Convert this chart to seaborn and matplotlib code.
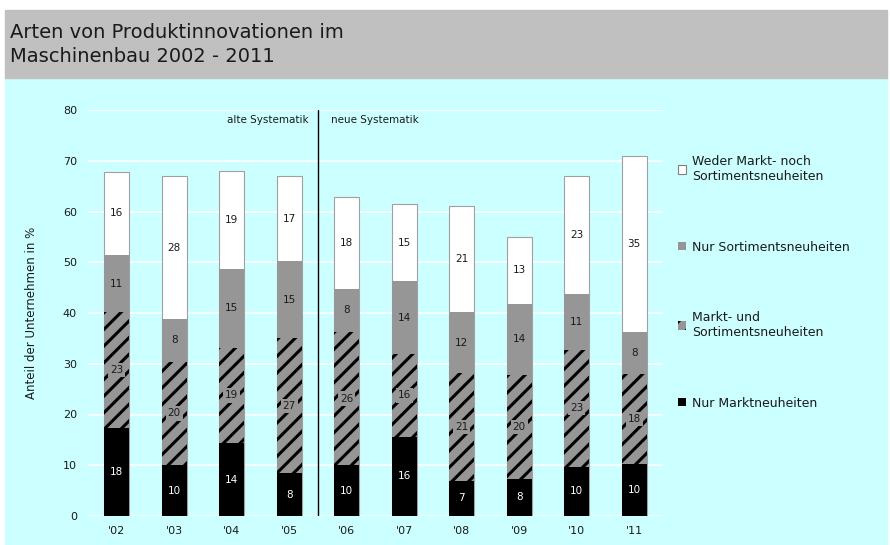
import matplotlib
matplotlib.use("Agg")
import matplotlib.pyplot as plt
import seaborn as sns
import pandas as pd
import numpy as np
from matplotlib.patches import Patch, Rectangle

# ---- data ----
years = ["'02", "'03", "'04", "'05", "'06", "'07", "'08", "'09", "'10", "'11"]
nur_markt = [17.4, 10.0, 14.3, 8.4, 10.0, 15.6, 6.9, 7.3, 9.7, 10.2]
markt_und_sort = [22.7, 20.4, 18.9, 26.7, 26.3, 16.3, 21.3, 20.5, 23.0, 17.7]
nur_sort = [11.4, 8.4, 15.4, 15.1, 8.5, 14.4, 11.9, 14.0, 11.0, 8.4]
weder = [16.3, 28.1, 19.4, 16.8, 18.0, 15.1, 21.0, 13.2, 23.3, 34.7]

lbl_nur_markt = [18, 10, 14, 8, 10, 16, 7, 8, 10, 10]
lbl_markt_und_sort = [23, 20, 19, 27, 26, 16, 21, 20, 23, 18]
lbl_nur_sort = [11, 8, 15, 15, 8, 14, 12, 14, 11, 8]
lbl_weder = [16, 28, 19, 17, 18, 15, 21, 13, 23, 35]

series_names = ["Nur Marktneuheiten", "Markt- und\nSortimentsneuheiten",
                "Nur Sortimentsneuheiten", "Weder Markt- noch\nSortimentsneuheiten"]

CYAN = "#CCFFFF"
GRAY = "#969696"
TXT = "#1a1a1a"

sns.set_theme(style="whitegrid")
plt.rcParams["font.family"] = ["DejaVu Sans"]
plt.rcParams["hatch.linewidth"] = 2.2

df = pd.DataFrame({"year": years, "s1": nur_markt, "s2": markt_und_sort,
                   "s3": nur_sort, "s4": weder})
df["c1"] = df["s1"]
df["c2"] = df["c1"] + df["s2"]
df["c3"] = df["c2"] + df["s3"]
df["c4"] = df["c3"] + df["s4"]

fig = plt.figure(figsize=(8.9, 5.45), dpi=100, facecolor="white")
# background panels
fig.patches.append(Rectangle((5 / 890, 0), 882 / 890, 1 - 78 / 545,
                             transform=fig.transFigure, color=CYAN, zorder=-10))
fig.patches.append(Rectangle((5 / 890, 1 - 78 / 545), 882 / 890, 68 / 545,
                             transform=fig.transFigure, color="#C0C0C0", zorder=-10))
fig.text(10 / 890, 1 - 32 / 545, "Arten von Produktinnovationen im",
         fontsize=14, color=TXT, va="center", ha="left")
fig.text(10 / 890, 1 - 57 / 545, "Maschinenbau 2002 - 2011",
         fontsize=14, color=TXT, va="center", ha="left")

ax = fig.add_axes([88 / 890, 1 - 516 / 545, (663 - 88) / 890, (516 - 110) / 545])
ax.set_facecolor(CYAN)

W = 0.44
layers = [("c4", "white", "#A0A0A0", 0.8, None),
          ("c3", GRAY, GRAY, 0.0, None),
          ("c2", GRAY, "black", 0.0, "//"),
          ("c1", "black", "black", 0.0, None)]
for col, fc, ec, lw, hatch in layers:
    sns.barplot(data=df, x="year", y=col, color=fc, width=W, saturation=1,
                errorbar=None, ax=ax, zorder=3)
    cont = ax.containers[-1]
    for p in cont:
        p.set_facecolor(fc)
        p.set_edgecolor(ec)
        p.set_linewidth(lw)
        if hatch:
            p.set_hatch(hatch)

# segment labels
segs = [(df["s1"], df["c1"] - df["s1"], lbl_nur_markt, "white", None),
        (df["s2"], df["c2"] - df["s2"], lbl_markt_und_sort, TXT, GRAY),
        (df["s3"], df["c3"] - df["s3"], lbl_nur_sort, TXT, None),
        (df["s4"], df["c4"] - df["s4"], lbl_weder, TXT, None)]
for h, b, lbls, color, box in segs:
    for i in range(len(years)):
        kw = {}
        if box:
            kw["bbox"] = dict(facecolor=box, edgecolor="none", pad=1.5)
        ax.text(i, b[i] + h[i] / 2, str(lbls[i]), ha="center", va="center",
                fontsize=7.5, color=color, zorder=5, **kw)

ax.set_xlim(-0.5, 9.5)
ax.set_ylim(0, 80)
ax.set_yticks(np.arange(0, 81, 10))
ax.grid(axis="y", color="white", linewidth=1.2, zorder=0)
ax.grid(axis="x", visible=False)
ax.set_axisbelow(True)
for s in ax.spines.values():
    s.set_visible(False)
ax.tick_params(axis="both", length=0, labelsize=8, labelcolor=TXT)
ax.tick_params(axis="y", pad=8)
ax.tick_params(axis="x", pad=7)
ax.set_xlabel("")
ax.set_ylabel("Anteil der Unternehmen in %", fontsize=8.5, color=TXT)
ax.yaxis.set_label_coords((38 - 88) / 575, 0.5)

ax.axvline(3.5, color="black", linewidth=1, zorder=4)
ax.text(3.33, 78, "alte Systematik", ha="right", va="center", fontsize=7.5, color=TXT)
ax.text(3.73, 78, "neue Systematik", ha="left", va="center", fontsize=7.5, color=TXT)

handles = [Patch(facecolor="white", edgecolor="#808080", linewidth=0.8),
           Patch(facecolor=GRAY, edgecolor=GRAY, linewidth=0),
           Patch(facecolor=GRAY, edgecolor="black", hatch="//", linewidth=0),
           Patch(facecolor="black", edgecolor="black", linewidth=0)]
leg = ax.legend(handles, series_names[::-1], loc="upper left",
                bbox_to_anchor=(678 / 890, 1 - 155 / 545),
                bbox_transform=fig.transFigure, frameon=False,
                handlelength=0.65, handleheight=0.65, handletextpad=0.45,
                labelspacing=4.6, borderpad=0, borderaxespad=0, fontsize=9)
for t in leg.get_texts():
    t.set_color(TXT)

fig.savefig("out.png", dpi=100, facecolor="white")
